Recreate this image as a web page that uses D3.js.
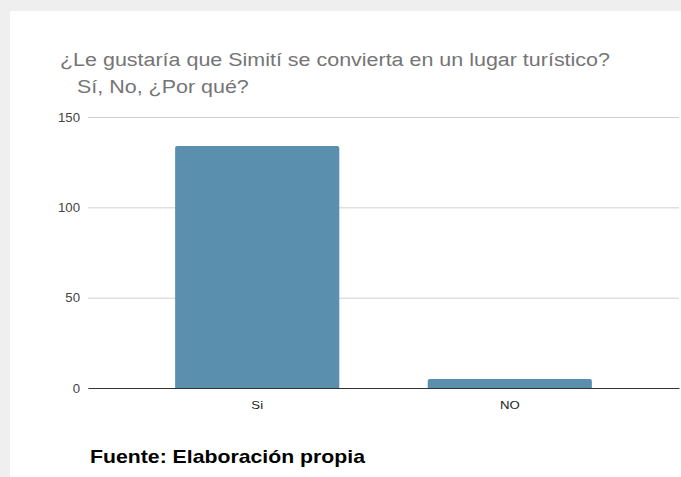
<!DOCTYPE html>
<html><head><meta charset="utf-8">
<script src="https://cdn.jsdelivr.net/npm/d3@7"></script>
<style>html,body{margin:0;padding:0;background:#efefef;}svg{display:block;}</style>
</head><body>
<svg id="c" width="681" height="477"></svg>
<script>
const categories = ["Si", "NO"];
const values = [134, 5];
const yTicks = [0, 50, 100, 150];
const titleLines = ["¿Le gustaría que Simití se convierta en un lugar turístico?", "Sí, No, ¿Por qué?"];
const footer = "Fuente: Elaboración propia";

const FONT = "Liberation Sans, Arial, sans-serif";
const svg = d3.select("#c");
svg.append("rect").attr("x", 10).attr("y", 11).attr("width", 671).attr("height", 466).attr("fill", "#fff");

const x = d3.scaleBand().domain(categories).range([88, 679]).paddingInner(0.35).paddingOuter(0.345);
const y = d3.scaleLinear().domain([0, 150]).range([388, 117]);

// horizontally stretched text helper (reference glyphs are wider than tall)
function stretchText(sel, px, py, sx) {
  sel.attr("x", 0).attr("y", 0).attr("transform", `translate(${px},${py}) scale(${sx},1)`);
}

const t1 = svg.append("text").attr("font-family", FONT).attr("font-size", 18.6).attr("fill", "#757575").text(titleLines[0]);
stretchText(t1, 60, 66, 1);
const sxTitle = 550 / t1.node().getComputedTextLength();
stretchText(t1, 60, 66, sxTitle);
const t2 = svg.append("text").attr("font-family", FONT).attr("font-size", 18.6).attr("fill", "#757575").text(titleLines[1]);
stretchText(t2, 77, 92.7, sxTitle);

const grid = svg.append("g").attr("transform", "translate(88,0)")
  .call(d3.axisLeft(y).tickValues(yTicks).tickSize(-591).tickPadding(8));
grid.select(".domain").remove();
grid.selectAll("line").attr("stroke", "#d0d0d0").attr("stroke-width", 1);
grid.selectAll("text").attr("font-family", FONT).attr("font-size", 12).attr("fill", "#444")
  .attr("dy", null).attr("dominant-baseline", "central")
  .each(function () { d3.select(this).attr("x", 0).attr("transform", "translate(-8,0.5) scale(1.1,1)"); });

svg.selectAll("path.bar").data(values).enter().append("path").attr("class", "bar")
  .attr("fill", "#5a8fae")
  .attr("d", (d, i) => {
    const x0 = x(categories[i]), w = x.bandwidth(), y0 = y(d), y1 = y(0), r = 2;
    return `M${x0},${y1}V${y0 + r}Q${x0},${y0} ${x0 + r},${y0}H${x0 + w - r}Q${x0 + w},${y0} ${x0 + w},${y0 + r}V${y1}Z`;
  });

const xAxis = svg.append("g").attr("transform", "translate(0,388)")
  .call(d3.axisBottom(x).tickSize(0).tickPadding(13));
xAxis.select(".domain").attr("stroke", "#333").attr("stroke-width", 1.2);
xAxis.selectAll("text").attr("font-family", FONT).attr("font-size", 11).attr("fill", "#222")
  .attr("transform", "scale(1.2,1)");

const f = svg.append("text").attr("font-family", FONT).attr("font-size", 17.7).attr("font-weight", "bold").attr("fill", "#000").text(footer);
stretchText(f, 90, 462.7, 1);
stretchText(f, 90, 462.7, 275 / f.node().getComputedTextLength());
</script>
</body></html>
